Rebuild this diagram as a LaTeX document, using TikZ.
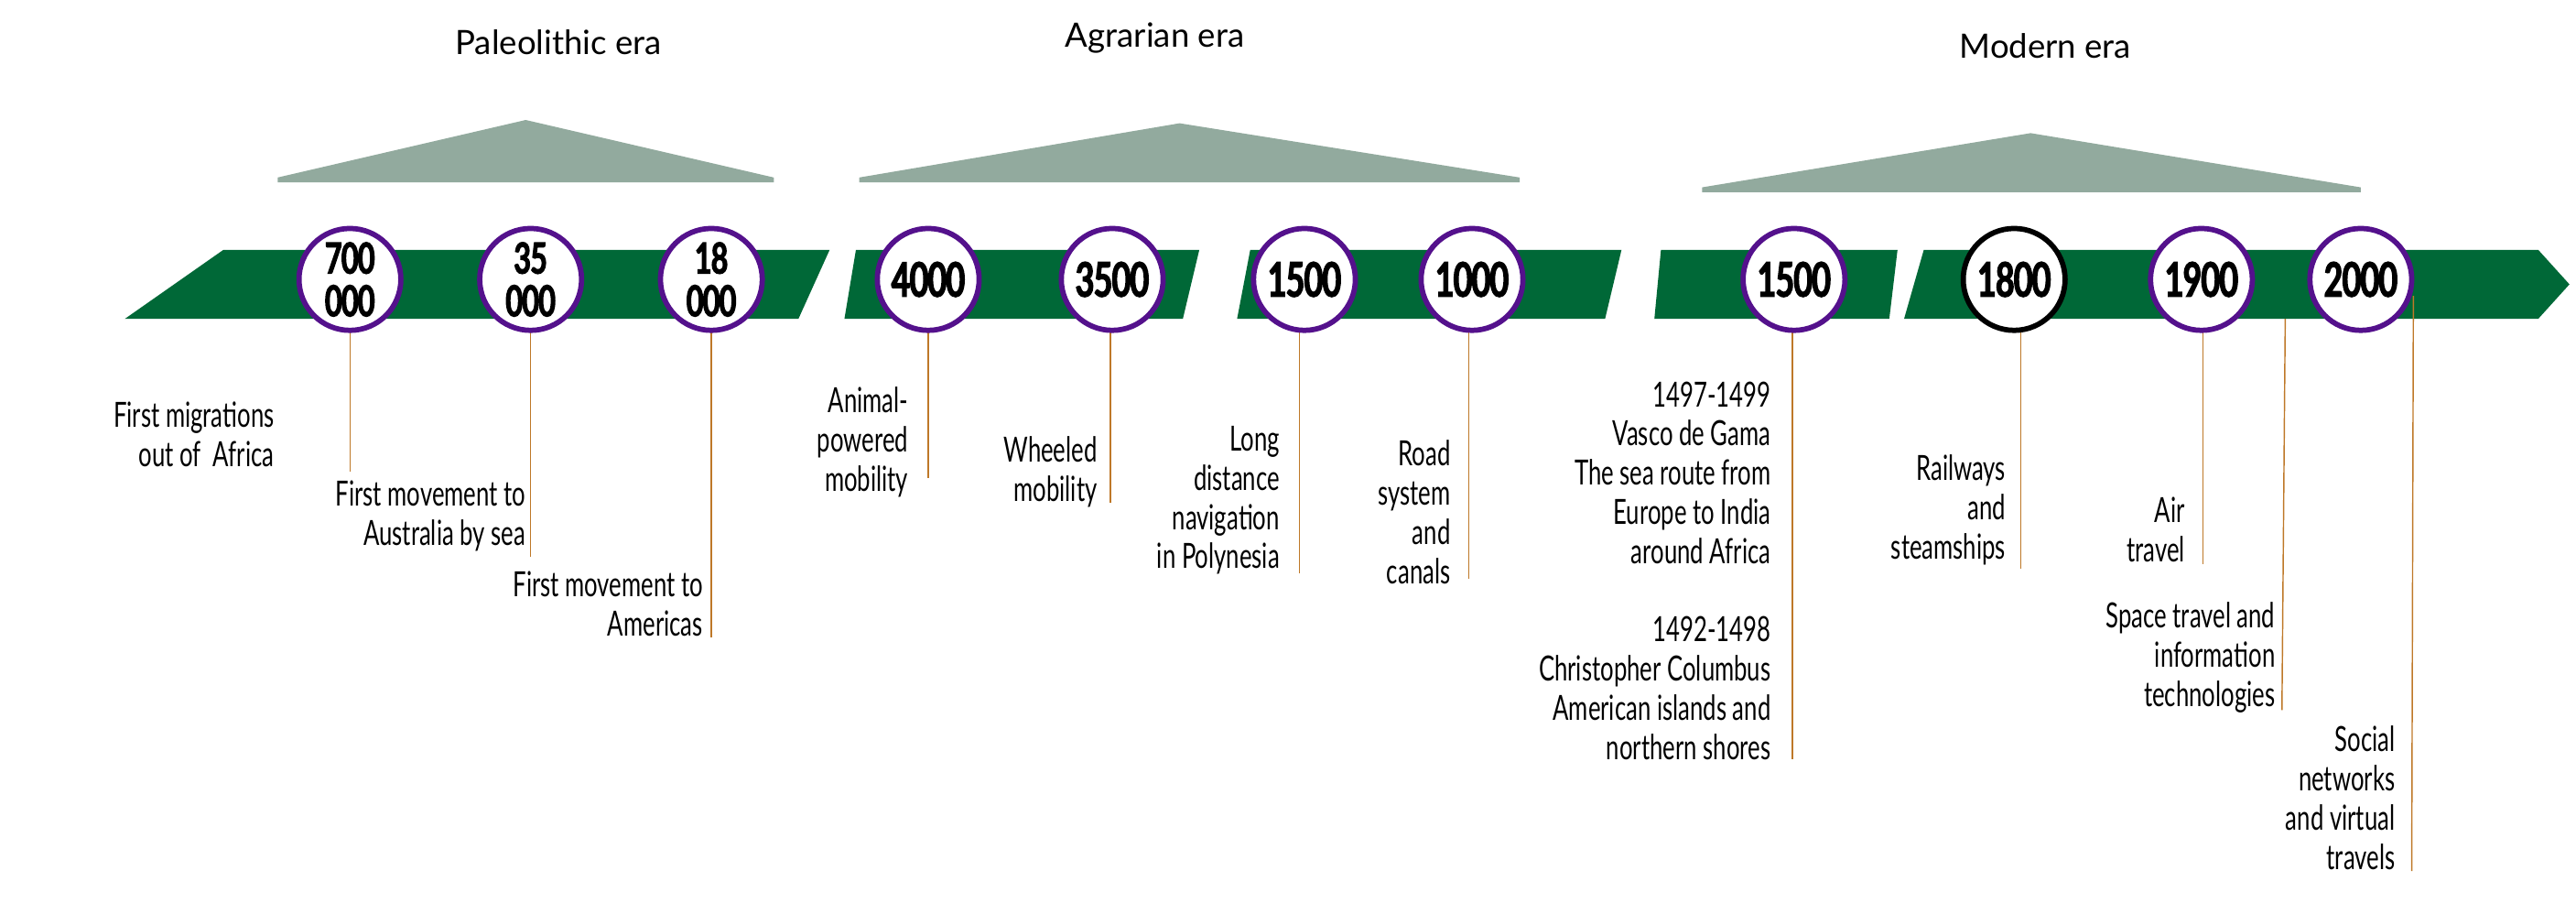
\documentclass[tikz,border=0pt]{standalone}
\usepackage{fontspec}
\setmainfont[FakeStretch=0.68]{Lato}
\newfontfamily\erafont{Lato}
\newfontfamily\yearfont[FakeStretch=0.68,FakeBold=5]{Lato}
\usetikzlibrary{positioning}
\definecolor{bandgreen}{RGB}{0,104,55}
\definecolor{eragrey}{RGB}{146,170,158}
\definecolor{ringpurple}{RGB}{84,17,140}
\definecolor{stembrown}{RGB}{190,120,40}
\tikzset{
  year/.style={circle,draw=ringpurple,line width=1.6mm,fill=white,minimum size=31mm,inner sep=0pt,
    align=center,font=\yearfont\fontsize{40}{35}\selectfont},
  yeartwo/.style={year,font=\yearfont\fontsize{36}{37}\selectfont},
  event/.style={anchor=base east,align=right,inner sep=0pt,font=\fontsize{30}{34}\selectfont},
  eralabel/.style={font=\erafont\fontsize{29}{32}\selectfont},
  stem/.style={stembrown,line width=0.4mm},
  era/.style={fill=eragrey},
}
\begin{document}
\begin{tikzpicture}[x=0.5mm,y=-0.5mm]
\useasboundingbox (0,0) rectangle (1568,549);
% era roofs
\fill[era] (169,111) -- (169,108) -- (320,73) -- (471,108) -- (471,111) -- cycle;
\fill[era] (523,111) -- (523,108) -- (718,75) -- (925,108) -- (925,111) -- cycle;
\fill[era] (1036,117) -- (1036,114) -- (1236,81) -- (1437,114) -- (1437,117) -- cycle;
\node[eralabel] (paleo) at (340,26) {Paleolithic era};
\node[eralabel] (agrar) at (703,23) {Agrarian era};
\node[eralabel] (modern) at (1245,28) {Modern era};

% green band
\fill[bandgreen] (76,194) -- (136,152) -- (505,152) -- (486,194) -- cycle;
\fill[bandgreen] (514,194) -- (521,152) -- (730,152) -- (720,194) -- cycle;
\fill[bandgreen] (753,194) -- (761,152) -- (987,152) -- (977,194) -- cycle;
\fill[bandgreen] (1007,194) -- (1011,152) -- (1155,152) -- (1150,194) -- cycle;
\fill[bandgreen] (1159,194) -- (1171,152) -- (1545,152) -- (1564,173) -- (1545,194) -- cycle;

% stems
\coordinate (e1) at (213,287);
\coordinate (e2) at (323,339);
\coordinate (e3) at (433,388);
\coordinate (e4) at (565,291);
\coordinate (e5) at (676,306);
\coordinate (e6) at (791,349);
\coordinate (e7) at (894,352);
\coordinate (e8) at (1091,462);
\coordinate (e9) at (1230,346);
\coordinate (e10) at (1341,343);
\coordinate (s11) at (1391,194);
\coordinate (e11) at (1389,432);
\coordinate (s12) at (1469,180);
\coordinate (e12) at (1468,530);

\foreach \n/\x in {1/213,2/323,3/433,4/565,5/676,6/791,7/894,8/1091,9/1230,10/1341}
  \draw[stem] (\x,190) -- (e\n);
\draw[stem] (s11) -- (e11);
\draw[stem] (s12) -- (e12);

% year circles
\foreach \n/\x/\t in {1/213/700,2/323/35,3/433/18}
  \node[yeartwo] (c\n) at (\x,170) {\t\\000};
\foreach \n/\x/\t in {4/565/4000,5/677/3500,6/794/1500,7/896/1000,8/1092/1500,10/1340/1900,11/1437/2000}
  \node[year] (c\n) at (\x,170) {\t};
\node[year,draw=black] (c9) at (1226,170) {1800};

% events
\node[event] (t1) at (167,284) {First migrations\\out of~ Africa};
\node[event] (t2) at (320,332) {First movement to\\Australia by sea};
\node[event] (t3) at (428,387) {First movement to\\Americas};
\node[event] (t4) at (553,299) {Animal-\\powered\\mobility};
\node[event] (t5) at (668,305) {Wheeled\\mobility};
\node[event] (t6) at (779,346) {Long\\distance\\navigation\\in Polynesia};
\node[event] (t7) at (883,355) {Road\\system\\and\\canals};
\node[event] (t8) at (1078,343) {1497-1499\\Vasco de Gama\\The sea route from\\Europe to India\\around Africa};
\node[event] (t9) at (1078,462) {1492-1498\\Christopher Columbus\\American islands and\\northern shores};
\node[event] (t10) at (1221,340) {Railways\\and\\steamships};
\node[event] (t11) at (1330,342) {Air\\travel};
\node[event] (t12) at (1385,430) {Space travel and\\information\\technologies};
\node[event] (t13) at (1458,529) {Social\\networks\\and virtual\\travels};
\end{tikzpicture}
\end{document}
